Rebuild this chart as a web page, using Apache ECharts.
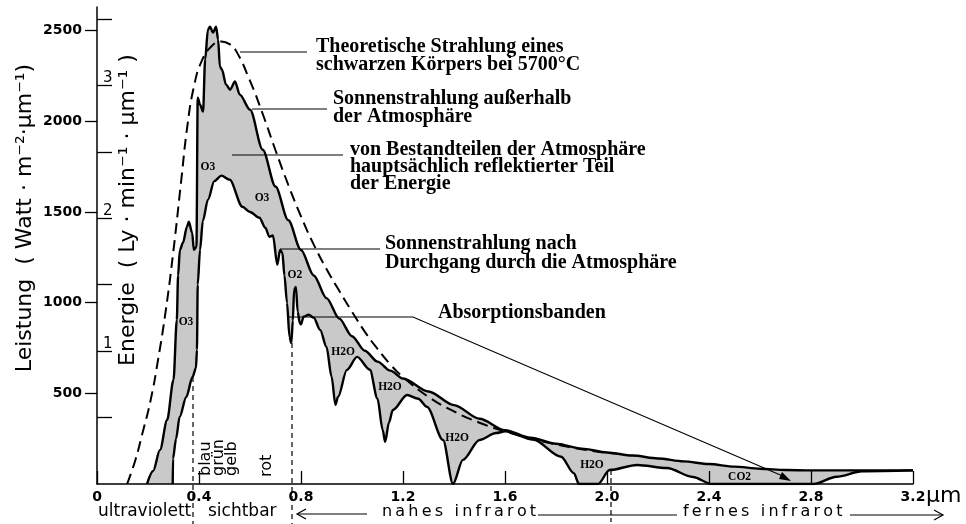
<!DOCTYPE html>
<html>
<head>
<meta charset="utf-8">
<script src="https://cdn.jsdelivr.net/npm/echarts@6.0.0/dist/echarts.min.js"></script>
<style>
  html, body { margin: 0; padding: 0; background: #fff; }
  #chart { width: 966px; height: 524px; }
</style>
</head>
<body>
<div id="chart"></div>
<script>
// Wellenlänge in µm, Leistung in W·m⁻²·µm⁻¹
const blackbody = [
  [0.118, 0], [0.15, 130], [0.18, 290], [0.21, 460], [0.24, 690], [0.27, 960],
  [0.30, 1290], [0.33, 1670], [0.355, 1980], [0.38, 2190], [0.41, 2330], [0.45, 2415],
  [0.488, 2440], [0.52, 2425], [0.547, 2384], [0.598, 2230], [0.65, 2040], [0.70, 1840],
  [0.75, 1650], [0.80, 1475], [0.85, 1320], [0.90, 1185], [0.95, 1065], [1.0, 950],
  [1.05, 840], [1.1, 745], [1.156, 650], [1.2, 590], [1.3, 480], [1.4, 400],
  [1.5, 338], [1.6, 290], [1.7, 250], [1.8, 218], [1.9, 192], [2.0, 172], [2.08, 160]
]
const extraterrestrial = [
  [0.196, 0], [0.22, 72], [0.247, 188], [0.275, 353], [0.30, 574], [0.313, 905],
  [0.318, 1150], [0.325, 1291], [0.337, 1330], [0.353, 1418], [0.36, 1446], [0.373, 1385],
  [0.38, 1291], [0.39, 1308], [0.395, 2130], [0.404, 2092], [0.416, 2053], [0.424, 2340],
  [0.435, 2505], [0.443, 2522], [0.455, 2489], [0.467, 2522], [0.475, 2450], [0.482, 2301],
  [0.49, 2285], [0.506, 2202], [0.522, 2174], [0.541, 2219], [0.56, 2147], [0.60, 2064],
  [0.65, 1843], [0.70, 1640], [0.75, 1455], [0.80, 1290], [0.85, 1150], [0.90, 1025],
  [0.95, 912], [1.0, 815], [1.05, 735], [1.1, 675], [1.15, 625], [1.2, 582],
  [1.3, 510], [1.4, 435], [1.5, 360], [1.6, 297], [1.7, 255], [1.8, 222],
  [1.9, 195], [2.0, 174], [2.1, 157], [2.2, 141], [2.3, 125], [2.4, 110],
  [2.5, 96], [2.6, 84], [2.7, 77], [2.8, 75], [3.2, 75]
]
const seaLevel = [
  [0.297, 0], [0.298, 140], [0.31, 250], [0.324, 370], [0.35, 480], [0.375, 591],
  [0.388, 640], [0.392, 740], [0.395, 1100], [0.404, 1290], [0.415, 1450], [0.435, 1567],
  [0.46, 1670], [0.488, 1700], [0.52, 1678], [0.57, 1529], [0.60, 1500], [0.637, 1468],
  [0.66, 1413], [0.676, 1363], [0.69, 1370], [0.707, 1209], [0.718, 1290], [0.727, 1275],
  [0.735, 1150], [0.745, 1000], [0.755, 811], [0.762, 778], [0.768, 900], [0.773, 1071],
  [0.78, 1087], [0.787, 950], [0.795, 889], [0.80, 880], [0.81, 922], [0.83, 933],
  [0.85, 917], [0.875, 850], [0.90, 756], [0.92, 591], [0.935, 436], [0.945, 480],
  [0.98, 629], [1.02, 701], [1.07, 630], [1.10, 470], [1.12, 300], [1.13, 232],
  [1.145, 340], [1.16, 408], [1.216, 491], [1.26, 470], [1.294, 425], [1.357, 243],
  [1.396, 0], [1.435, 133], [1.50, 243], [1.565, 281], [1.60, 290], [1.71, 245],
  [1.82, 150], [1.87, 60], [1.89, 0], [1.965, 0], [2.01, 77], [2.118, 105], [2.235, 88],
  [2.337, 39], [2.41, 0], [2.81, 0], [2.9, 40], [3.0, 70], [3.2, 75]
]
const bandLabels = [
  [0.349, 894, 'O3'], [0.435, 1749, 'O3'], [0.647, 1578, 'O3'], [0.776, 1153, 'O2'],
  [0.965, 728, 'H2O'], [1.149, 535, 'H2O'], [1.412, 254, 'H2O'], [1.941, 105, 'H2O'],
  [2.52, 39, 'CO2']
]
const xTickValues = [0, 0.4, 0.8, 1.2, 1.6, 2.0, 2.4, 2.8, 3.2]
const leistungTicks = [500, 1000, 1500, 2000, 2500]
const energieTicks = [0.5, 1, 1.5, 2, 2.5, 3, 3.5]
const energieLabels = [1, 2, 3]

const SANS = 'DejaVu Sans'
const SERIF = 'Liberation Serif'

const txt = (x, y, text, extra = {}) => ({
  type: 'text', x, y, z: 50, rotation: extra.rotation || 0,
  style: Object.assign({
    text, fill: '#000', fontFamily: SANS, fontSize: 17,
    align: 'left', verticalAlign: 'middle'
  }, extra.style || {})
})
const note = (x, top, text, lineHeight = 18) => txt(x, top, text, {
  style: { fontFamily: SERIF, fontWeight: 'bold', fontSize: 20, lineHeight, verticalAlign: 'top' }
})
const line = (pts, dash) => ({
  type: 'polyline', z: 50, shape: { points: pts },
  style: { stroke: '#000', lineWidth: 1.2, fill: null, lineDash: dash || null }
})
const spaced = s => s.split('').join('\u2009')

const chart = echarts.init(document.getElementById('chart'))

// Spektren mit Sprüngen: monoton glätten; Planck-Kurve ist glatt
const smooth = { smooth: 0.3, smoothMonotone: 'x', symbol: 'none' }

chart.setOption({
  animation: false,
  backgroundColor: '#fff',
  grid: { left: 97, right: 53, top: 7, bottom: 40 },
  xAxis: {
    type: 'value', min: 0, max: 3.2, interval: 0.4, z: 10,
    axisLine: { lineStyle: { color: '#000', width: 1.5 } },
    axisTick: { inside: true, length: 13, customValues: xTickValues, lineStyle: { color: '#000', width: 1.3 } },
    axisLabel: {
      customValues: xTickValues, margin: 6, color: '#000', fontFamily: SANS,
      fontWeight: 'bold', fontSize: 14,
      formatter: v => (v === 0 ? '0' : v.toFixed(1))
    },
    splitLine: { show: false }
  },
  yAxis: [
    {
      type: 'value', min: 0, max: 2630, interval: 500, position: 'left', z: 10,
      axisLine: { show: true, lineStyle: { color: '#000', width: 1.5 } },
      axisTick: { show: true, length: 12, customValues: leistungTicks, lineStyle: { color: '#000', width: 1.3 } },
      axisLabel: {
        customValues: leistungTicks, margin: 15, color: '#000', fontFamily: SANS,
        fontWeight: 'bold', fontSize: 14, formatter: v => (v === 0 ? '' : String(v))
      },
      splitLine: { show: false }
    },
    {
      type: 'value', min: 0, max: 3.59, interval: 0.5, position: 'left', offset: 0, z: 10,
      axisLine: { show: false },
      axisTick: { show: true, inside: true, length: 15, customValues: energieTicks, lineStyle: { color: '#000', width: 1.3 } },
      axisLabel: {
        customValues: energieLabels, inside: true, margin: 6, verticalAlign: 'bottom',
        color: '#000', fontFamily: SANS, fontSize: 15,
        formatter: v => (Number.isInteger(v) && v > 0 ? String(v) : '')
      },
      splitLine: { show: false }
    }
  ],
  series: [
    {
      name: 'Fläche außen', type: 'line', data: extraterrestrial, ...smooth, z: 1,
      lineStyle: { opacity: 0 }, areaStyle: { color: '#c9c9c9', opacity: 1 }
    },
    {
      name: 'Fläche Boden', type: 'line', data: seaLevel, ...smooth, z: 1,
      lineStyle: { opacity: 0 }, areaStyle: { color: '#ffffff', opacity: 1 }
    },
    {
      name: 'schwarzer Körper 5700°C', type: 'line', data: blackbody,
      smooth: 0.5, symbol: 'none', z: 3,
      lineStyle: { color: '#000', width: 2, type: [11, 6] }
    },
    {
      name: 'außerhalb der Atmosphäre', type: 'line', data: extraterrestrial, ...smooth, z: 4,
      lineStyle: { color: '#000', width: 2.4 }
    },
    {
      name: 'nach Durchgang', type: 'line', data: seaLevel, ...smooth, z: 4,
      lineStyle: { color: '#000', width: 2.4 }
    },
    {
      name: 'Banden', type: 'scatter', z: 6, symbolSize: 1,
      itemStyle: { color: 'rgba(0,0,0,0)' },
      data: bandLabels.map(d => ({ value: [d[0], d[1]], name: d[2] })),
      label: {
        show: true, position: 'inside', formatter: '{b}', color: '#000', opacity: 1,
        fontFamily: SERIF, fontWeight: 'bold', fontSize: 11.5
      }
    }
  ],
  graphic: [
    // Achsentitel
    txt(25, 218, 'Leistung  ( Watt · m⁻²·µm⁻¹)', { rotation: Math.PI / 2, style: { align: 'center', fontSize: 22 } }),
    txt(128, 210, 'Energie  ( Ly · min⁻¹ · µm⁻¹ )', { rotation: Math.PI / 2, style: { align: 'center', fontSize: 22 } }),
    txt(926, 496, 'µm', { style: { fontSize: 22 } }),

    // Farben im sichtbaren Bereich
    txt(206, 476, 'blau', { rotation: Math.PI / 2, style: { fontSize: 16 } }),
    txt(219, 476, 'grün', { rotation: Math.PI / 2, style: { fontSize: 16 } }),
    txt(232, 476, 'gelb', { rotation: Math.PI / 2, style: { fontSize: 16 } }),
    txt(267, 477, 'rot', { rotation: Math.PI / 2, style: { fontSize: 16 } }),

    // Spektralbereiche unten
    txt(98, 512, 'ultraviolett'),
    txt(208, 512, 'sichtbar'),
    txt(382, 512, spaced('nahes infrarot'), { style: { fontSize: 16 } }),
    txt(683, 512, spaced('fernes infrarot'), { style: { fontSize: 16 } }),
    line([[193, 377], [193, 524]], [5, 4]),
    line([[292, 343], [292, 524]], [5, 4]),
    line([[611, 470], [611, 522]], [5, 3]),
    line([[297, 514], [367, 514]]),
    line([[306, 509], [297, 514], [306, 519]]),
    line([[538, 515], [677, 515]]),
    line([[850, 515], [943, 515]]),
    line([[934, 510], [943, 515], [934, 520]]),

    // Beschriftungen mit Hinweislinien
    note(316, 38, 'Theoretische Strahlung eines\nschwarzen Körpers bei 5700°C'),
    line([[240, 52], [307, 52]]),
    note(333, 90, 'Sonnenstrahlung außerhalb\nder Atmosphäre'),
    line([[252, 109], [327, 109]]),
    note(350, 141, 'von Bestandteilen der Atmosphäre\nhauptsächlich reflektierter Teil\nder Energie', 17),
    line([[232, 155], [343, 155]]),
    note(385, 234, 'Sonnenstrahlung nach\nDurchgang durch die Atmosphäre', 19),
    line([[280, 249], [380, 249]]),
    note(438, 304, 'Absorptionsbanden'),
    line([[287, 317], [413, 317], [785, 477]]),
    {
      type: 'polygon', z: 50,
      shape: { points: [[791, 481], [779, 479], [782, 472]] },
      style: { fill: '#000' }
    }
  ]
})
</script>
</body>
</html>
